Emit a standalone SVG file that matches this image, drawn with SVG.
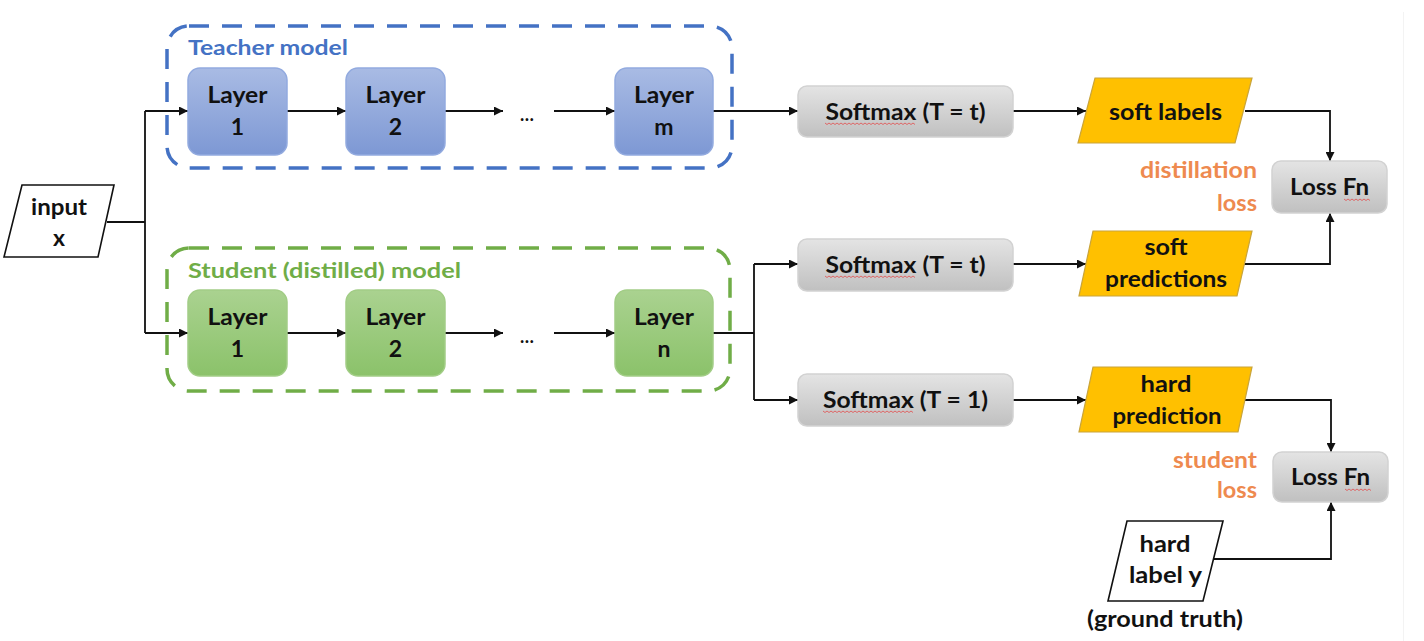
<svg xmlns="http://www.w3.org/2000/svg" width="1424" height="641" viewBox="0 0 1424 641">
<defs>
<linearGradient id="gBlue" x1="0" y1="0" x2="0" y2="1"><stop offset="0" stop-color="#A9BBE4"/><stop offset="1" stop-color="#7D98D4"/></linearGradient>
<linearGradient id="gGreen" x1="0" y1="0" x2="0" y2="1"><stop offset="0" stop-color="#AAD290"/><stop offset="1" stop-color="#8BC26A"/></linearGradient>
<linearGradient id="gGrey" x1="0" y1="0" x2="0" y2="1"><stop offset="0" stop-color="#E4E4E4"/><stop offset="1" stop-color="#C0C0C0"/></linearGradient>
<marker id="arr" viewBox="0 0 10 10" refX="10" refY="5" markerWidth="10" markerHeight="9" markerUnits="userSpaceOnUse" orient="auto"><path d="M0,0 L10,5 L0,10 z" fill="#111"/></marker>
</defs>
<style>
text{font-family:"Lato","Open Sans","Liberation Sans",sans-serif;font-weight:bold;fill:#111}
.lbl{font-size:23px;text-anchor:middle}
.ttl{font-size:21px}
.blue{fill:url(#gBlue);stroke:#92AADF;stroke-width:1.5}
.green{fill:url(#gGreen);stroke:#A2CD86;stroke-width:1.5}
.grey{fill:url(#gGrey);stroke:#D2D2D2;stroke-width:1.5}
.gold{fill:#FFC000;stroke:#C9A43A;stroke-width:1.2}
.white{fill:#fff;stroke:#111;stroke-width:1.6}
.con{fill:none;stroke:#111;stroke-width:1.8}
.arrow{marker-end:url(#arr)}
.orange{fill:#EE8A4F;font-size:23px;text-anchor:end}
.sq{fill:none;stroke:#E05A5A;stroke-width:0.9}
</style>
<rect width="1424" height="641" fill="#fff"/>
<line x1="1403.5" y1="12" x2="1403.5" y2="641" stroke="#f3f3f3" stroke-width="1"/>

<g id="teacher-group">
<rect x="167" y="26" width="565" height="142" rx="22" fill="none" stroke="#4472C4" stroke-width="3.5" stroke-dasharray="20 13"/>
<text class="ttl" x="188" y="55" textLength="160" lengthAdjust="spacingAndGlyphs" style="fill:#4472C4">Teacher model</text>
</g>
<g id="student-group">
<rect x="167" y="248" width="563" height="143" rx="22" fill="none" stroke="#70AD47" stroke-width="3.5" stroke-dasharray="20 13"/>
<text class="ttl" x="188" y="278" textLength="273" lengthAdjust="spacingAndGlyphs" style="fill:#70AD47">Student (distilled) model</text>
</g>

<g id="connectors">
<path class="con" d="M107,222 H145 M145,111 V333"/>
<path class="con arrow" d="M145,111 H188"/>
<path class="con arrow" d="M145,333 H188"/>
<path class="con arrow" d="M287,111 H346"/>
<path class="con arrow" d="M445,111 H503"/>
<path class="con arrow" d="M554,111 H615"/>
<path class="con arrow" d="M713,111 H798"/>
<path class="con arrow" d="M287,333 H346"/>
<path class="con arrow" d="M445,333 H503"/>
<path class="con arrow" d="M554,333 H615"/>
<path class="con" d="M713,333 H754 M754,264 V400"/>
<path class="con arrow" d="M754,264 H798"/>
<path class="con arrow" d="M754,400 H798"/>
<path class="con arrow" d="M1013,111 H1086"/>
<path class="con arrow" d="M1013,264 H1086"/>
<path class="con arrow" d="M1013,400 H1086"/>
<path class="con arrow" d="M1245,111 H1330 V161"/>
<path class="con arrow" d="M1244,264 H1330 V213"/>
<path class="con arrow" d="M1245,400 H1331 V452"/>
<path class="con arrow" d="M1213,559 H1331 V502"/>
</g>

<g id="input-x">
<polygon class="white" points="22,185 114,185 98,257 4,257"/>
<text class="lbl" x="59" y="215" textLength="56" lengthAdjust="spacingAndGlyphs">input</text>
<text class="lbl" x="59" y="246">x</text>
</g>

<g id="teacher-layer-1">
<rect class="blue" x="188" y="68" width="99" height="87" rx="12"/>
<text class="lbl" x="237.5" y="103" textLength="60" lengthAdjust="spacingAndGlyphs">Layer</text>
<text class="lbl" x="237.5" y="135">1</text>
</g>
<g id="teacher-layer-2">
<rect class="blue" x="346" y="68" width="99" height="87" rx="12"/>
<text class="lbl" x="395.5" y="103" textLength="60" lengthAdjust="spacingAndGlyphs">Layer</text>
<text class="lbl" x="395.5" y="135">2</text>
</g>
<g id="teacher-dots"><text class="lbl" x="527" y="121" style="font-size:18px">…</text></g>
<g id="teacher-layer-m">
<rect class="blue" x="615" y="68" width="98" height="87" rx="12"/>
<text class="lbl" x="664" y="103" textLength="60" lengthAdjust="spacingAndGlyphs">Layer</text>
<text class="lbl" x="664" y="135">m</text>
</g>

<g id="student-layer-1">
<rect class="green" x="188" y="290" width="99" height="86" rx="12"/>
<text class="lbl" x="237.5" y="325" textLength="60" lengthAdjust="spacingAndGlyphs">Layer</text>
<text class="lbl" x="237.5" y="357">1</text>
</g>
<g id="student-layer-2">
<rect class="green" x="346" y="290" width="99" height="86" rx="12"/>
<text class="lbl" x="395.5" y="325" textLength="60" lengthAdjust="spacingAndGlyphs">Layer</text>
<text class="lbl" x="395.5" y="357">2</text>
</g>
<g id="student-dots"><text class="lbl" x="527" y="343" style="font-size:18px">…</text></g>
<g id="student-layer-n">
<rect class="green" x="615" y="290" width="98" height="86" rx="12"/>
<text class="lbl" x="664" y="325" textLength="60" lengthAdjust="spacingAndGlyphs">Layer</text>
<text class="lbl" x="664" y="357">n</text>
</g>

<g id="softmax-teacher">
<rect class="grey" x="798" y="86" width="215" height="51" rx="9"/>
<text class="lbl" x="905.5" y="120" textLength="160" lengthAdjust="spacingAndGlyphs">Softmax (T = t)</text>
<path class="sq" d="M825,123 l2,1.5 2,-1.5 2,1.5 2,-1.5 2,1.5 2,-1.5 2,1.5 2,-1.5 2,1.5 2,-1.5 2,1.5 2,-1.5 2,1.5 2,-1.5 2,1.5 2,-1.5 2,1.5 2,-1.5 2,1.5 2,-1.5 2,1.5 2,-1.5 2,1.5 2,-1.5 2,1.5 2,-1.5 2,1.5 2,-1.5 2,1.5 2,-1.5 2,1.5 2,-1.5 2,1.5 2,-1.5 2,1.5 2,-1.5 2,1.5 2,-1.5 2,1.5 2,-1.5 2,1.5 2,-1.5 2,1.5 2,-1.5 2,1.5"/>
</g>
<g id="softmax-student-soft">
<rect class="grey" x="798" y="239" width="215" height="52" rx="9"/>
<text class="lbl" x="905.5" y="273" textLength="160" lengthAdjust="spacingAndGlyphs">Softmax (T = t)</text>
<path class="sq" d="M825,276 l2,1.5 2,-1.5 2,1.5 2,-1.5 2,1.5 2,-1.5 2,1.5 2,-1.5 2,1.5 2,-1.5 2,1.5 2,-1.5 2,1.5 2,-1.5 2,1.5 2,-1.5 2,1.5 2,-1.5 2,1.5 2,-1.5 2,1.5 2,-1.5 2,1.5 2,-1.5 2,1.5 2,-1.5 2,1.5 2,-1.5 2,1.5 2,-1.5 2,1.5 2,-1.5 2,1.5 2,-1.5 2,1.5 2,-1.5 2,1.5 2,-1.5 2,1.5 2,-1.5 2,1.5 2,-1.5 2,1.5 2,-1.5 2,1.5"/>
</g>
<g id="softmax-student-hard">
<rect class="grey" x="798" y="374" width="215" height="52" rx="9"/>
<text class="lbl" x="905.5" y="408" textLength="165" lengthAdjust="spacingAndGlyphs">Softmax (T = 1)</text>
<path class="sq" d="M823,411 l2,1.5 2,-1.5 2,1.5 2,-1.5 2,1.5 2,-1.5 2,1.5 2,-1.5 2,1.5 2,-1.5 2,1.5 2,-1.5 2,1.5 2,-1.5 2,1.5 2,-1.5 2,1.5 2,-1.5 2,1.5 2,-1.5 2,1.5 2,-1.5 2,1.5 2,-1.5 2,1.5 2,-1.5 2,1.5 2,-1.5 2,1.5 2,-1.5 2,1.5 2,-1.5 2,1.5 2,-1.5 2,1.5 2,-1.5 2,1.5 2,-1.5 2,1.5 2,-1.5 2,1.5 2,-1.5 2,1.5 2,-1.5 2,1.5"/>
</g>

<g id="soft-labels">
<polygon class="gold" points="1095,78 1252,78 1235,143 1078,143"/>
<text class="lbl" x="1165.5" y="120" textLength="113" lengthAdjust="spacingAndGlyphs">soft labels</text>
</g>
<g id="soft-predictions">
<polygon class="gold" points="1093,231 1252,231 1237,296 1079,296"/>
<text class="lbl" x="1166" y="255" textLength="43" lengthAdjust="spacingAndGlyphs">soft</text>
<text class="lbl" x="1166" y="287" textLength="122" lengthAdjust="spacingAndGlyphs">predictions</text>
</g>
<g id="hard-prediction">
<polygon class="gold" points="1093,367 1252,367 1238,432 1079,432"/>
<text class="lbl" x="1166" y="392" textLength="51" lengthAdjust="spacingAndGlyphs">hard</text>
<text class="lbl" x="1167" y="424" textLength="109" lengthAdjust="spacingAndGlyphs">prediction</text>
</g>

<g id="loss-fn-distillation">
<rect class="grey" x="1272" y="161" width="115" height="52" rx="9"/>
<text class="lbl" x="1329.5" y="195" textLength="79" lengthAdjust="spacingAndGlyphs">Loss Fn</text>
<path class="sq" d="M1344,199 l2,1.5 2,-1.5 2,1.5 2,-1.5 2,1.5 2,-1.5 2,1.5 2,-1.5 2,1.5 2,-1.5 2,1.5 2,-1.5 2,1.5"/>
</g>
<g id="distillation-loss-label">
<text class="orange" x="1257" y="178" textLength="117" lengthAdjust="spacingAndGlyphs">distillation</text>
<text class="orange" x="1257" y="211" textLength="40" lengthAdjust="spacingAndGlyphs">loss</text>
</g>

<g id="loss-fn-student">
<rect class="grey" x="1273" y="452" width="115" height="50" rx="9"/>
<text class="lbl" x="1330.5" y="485" textLength="79" lengthAdjust="spacingAndGlyphs">Loss Fn</text>
<path class="sq" d="M1345,489 l2,1.5 2,-1.5 2,1.5 2,-1.5 2,1.5 2,-1.5 2,1.5 2,-1.5 2,1.5 2,-1.5 2,1.5 2,-1.5 2,1.5"/>
</g>
<g id="student-loss-label">
<text class="orange" x="1257" y="468" textLength="84" lengthAdjust="spacingAndGlyphs">student</text>
<text class="orange" x="1257" y="498" textLength="40" lengthAdjust="spacingAndGlyphs">loss</text>
</g>

<g id="hard-label-y">
<polygon class="white" points="1127,521 1223,521 1203,601 1108,601"/>
<text class="lbl" x="1165" y="552" textLength="51" lengthAdjust="spacingAndGlyphs">hard</text>
<text class="lbl" x="1165.5" y="583" textLength="73" lengthAdjust="spacingAndGlyphs">label y</text>
<text class="lbl" x="1165" y="627" textLength="156" lengthAdjust="spacingAndGlyphs">(ground truth)</text>
</g>
</svg>
